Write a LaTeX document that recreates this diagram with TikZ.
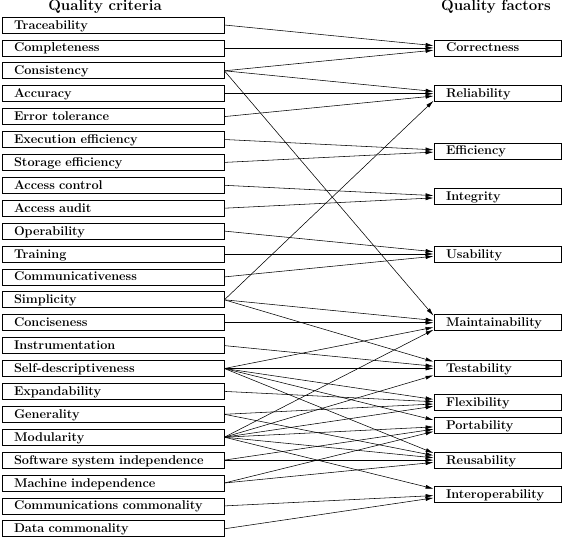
\documentclass[tikz,border=0pt]{standalone}
\usepackage{tikz}
\usetikzlibrary{arrows.meta,calc}

\begin{document}
\begin{tikzpicture}[x=1pt,y=-1pt,
 crit/.style={draw,line width=0.8pt,minimum height=16pt,inner ysep=0pt,inner xsep=12pt,
  text width=198pt,text height=10pt,text depth=2pt,align=left,
  font=\fontsize{12.7}{14}\selectfont\bfseries},
 fact/.style={crit,text width=103pt},
 head/.style={font=\fontsize{15}{17}\selectfont\bfseries},
 link/.style={line width=0.55pt,-{Latex[length=8pt,width=4pt]}}]
\useasboundingbox (0,0) rectangle (563,538);
\node[head] (ch) at (105,7) {Quality criteria};
\node[head] (fh) at (496,7) {Quality factors};
% criteria, one row each
\foreach \i/\t in {1/Traceability,2/Completeness,3/Consistency,4/Accuracy,5/Error tolerance,
 6/Execution efficiency,7/Storage efficiency,8/Access control,9/Access audit,10/Operability,
 11/Training,12/Communicativeness,13/Simplicity,14/Conciseness,15/Instrumentation,
 16/Self-descriptiveness,17/Expandability,18/Generality,19/Modularity,
 20/Software system independence,21/Machine independence,22/Communications commonality,
 23/Data commonality}
 {\node[crit] (c\i) at (113,{25+22.9*(\i-1)}) {\t};}
% factors, placed on (half) rows
\foreach \j/\r/\t in {1/2/Correctness,2/4/Reliability,3/6.5/Efficiency,4/8.5/Integrity,
 5/11/Usability,6/14/Maintainability,7/16/Testability,8/17.5/Flexibility,9/18.5/Portability,
 10/20/Reusability,11/21.5/Interoperability}
 {\node[fact] (f\j) at (497.5,{25+22.9*(\r-1)}) {\t};}
% criterion -> factor
\foreach \a/\b in {1/1,2/1,3/1,3/2,3/6,4/2,5/2,13/2,6/3,7/3,8/4,9/4,10/5,11/5,12/5,
 13/6,13/7,14/6,15/7,16/6,16/7,16/8,16/9,16/10,17/8,18/8,18/10,
 19/6,19/7,19/8,19/9,19/10,19/11,20/9,20/10,21/9,21/10,22/11,23/11}
 {\draw[link] let \p1=(c\a.east),\p2=(f\b.west),
   \n1={max(-7,min(7,0.1*(\y1-\y2)))} in (c\a.east) -- ([yshift=\n1]f\b.west);}
\end{tikzpicture}
\end{document}
